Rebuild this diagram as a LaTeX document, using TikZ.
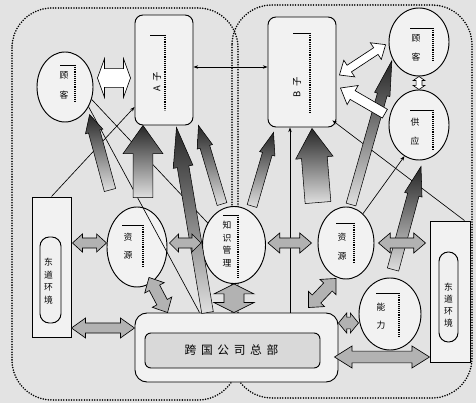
\documentclass[tikz,border=0pt]{standalone}
\usepackage{fontspec}
\newfontfamily\cjk{Noto Sans CJK SC}
\usetikzlibrary{calc,shapes.geometric,arrows.meta}

% fat single arrow: style, tail, tip, shaft half-width, head half-width, head length
\newcommand\myfat[6]{%
  \coordinate (faP) at #2; \coordinate (faQ) at #3;
  \coordinate (faB) at ($(faQ)!#6!(faP)$);
  \path[#1] ($(faP)!#4!90:(faQ)$) -- ($(faB)!#4!90:(faQ)$) -- ($(faB)!#5!90:(faQ)$) -- (faQ)
    -- ($(faB)!#5!-90:(faQ)$) -- ($(faB)!#4!-90:(faQ)$) -- ($(faP)!#4!-90:(faQ)$) -- cycle;}
% fat double arrow: style, end A, end C, shaft half-width, head half-width, head length
\newcommand\mydbl[6]{%
  \coordinate (daA) at #2; \coordinate (daC) at #3;
  \coordinate (daU) at ($(daA)!#6!(daC)$);
  \coordinate (daV) at ($(daC)!#6!(daA)$);
  \path[#1] (daA) -- ($(daU)!#5!90:(daC)$) -- ($(daU)!#4!90:(daC)$) -- ($(daV)!#4!-90:(daA)$)
    -- ($(daV)!#5!-90:(daA)$) -- (daC) -- ($(daV)!#5!90:(daA)$) -- ($(daV)!#4!90:(daA)$)
    -- ($(daU)!#4!-90:(daC)$) -- ($(daU)!#5!-90:(daC)$) -- cycle;}
% label bracket: node, x1, x2, ytop, ybottom
\newcommand\mybrk[5]{%
  \draw[line width=0.6pt] ([shift={(#2,#4)}]#1.center) -- ([shift={(#3,#4)}]#1.center);
  \draw[brk] ([shift={(#3,#4)}]#1.center) -- ([shift={(#3,#5)}]#1.center);}

\tikzset{
  region/.style={line width=1.5pt, dash pattern=on 0pt off 2.2pt, line cap=round, rounded corners=1.2cm},
  box/.style={draw, line width=0.8pt, fill=gray!10, rounded corners=0.24cm, inner sep=0pt},
  oval/.style={draw, ellipse, line width=0.8pt, fill=gray!10, inner sep=0pt},
  rectb/.style={draw, line width=0.8pt, fill=gray!10, inner sep=0pt},
  pill/.style={draw, line width=0.8pt, fill=gray!12, rounded corners=0.28cm, inner sep=0pt},
  brk/.style={line width=0.9pt, dash pattern=on 0.8pt off 0.8pt},
  txt/.style={font=\cjk\fontsize{7.5}{9}\selectfont, inner sep=0pt, align=center},
  thinl/.style={line width=0.55pt},
  grad/.style={draw=black, line width=0.45pt, top color=black!85, bottom color=gray!25},
  whitea/.style={draw=black, fill=white, line width=0.55pt},
  darka/.style={draw=black, fill=gray!60, line width=0.55pt},
  tip/.style={-{Stealth[length=4pt,width=3pt]}}
}

\begin{document}
\begin{tikzpicture}[x=0.03cm,y=-0.03cm]
\path[use as bounding box, fill=gray!22] (0,0) rectangle (476,403);

% regions
\draw[region] (12,8) rectangle (238,400);
\draw[region] (232,5) rectangle (472,398);

% nodes
\node[box, minimum width=1.74cm, minimum height=3.3cm] (nA) at (164,70) {};
\node[box, minimum width=2.04cm, minimum height=3.3cm] (nB) at (302,72) {};
\node[oval, minimum width=1.68cm, minimum height=2.1cm] (c1) at (65,87) {};
\node[oval, minimum width=1.8cm, minimum height=2.04cm] (r1) at (419,42) {};
\node[oval, minimum width=1.8cm, minimum height=2.1cm] (r2) at (419,125) {};
\node[oval, minimum width=1.8cm, minimum height=2.4cm] (c2) at (137,247) {};
\node[oval, minimum width=1.89cm, minimum height=2.31cm] (c3) at (234,245) {};
\node[oval, minimum width=1.68cm, minimum height=2.16cm] (c4) at (346,243) {};
\node[oval, minimum width=1.86cm, minimum height=2.16cm] (c5) at (390,314) {};
\node[rectb, minimum width=1.17cm, minimum height=4.2cm] (lr) at (51.5,267) {};
\node[pill, minimum width=0.63cm, minimum height=2.58cm] (lri) at (50.5,280) {};
\node[rectb, minimum width=1.2cm, minimum height=4.23cm] (rr) at (450,291.5) {};
\node[pill, minimum width=0.57cm, minimum height=2.7cm] (rri) at (448.5,297) {};
\node[box, rounded corners=0.36cm, minimum width=6.09cm, minimum height=2.07cm] (bb) at (236.5,347.5) {};
\node[box, fill=gray!30, rounded corners=0.18cm, minimum width=5.25cm, minimum height=1.05cm] (bbi) at (232.5,350.5) {};

% brackets
\mybrk{nA}{-14}{1}{-35}{40}
\mybrk{nB}{-9}{8}{-39}{40}
\mybrk{c1}{-5}{10}{-22}{15}
\mybrk{r1}{-9}{14}{-14}{18}
\mybrk{r2}{-9}{14}{-15}{25}
\mybrk{c2}{-15}{6}{-22}{21}
\mybrk{c3}{-11}{4}{-30}{32}
\mybrk{c4}{-10}{8}{-20}{20}
\mybrk{c5}{-14}{9}{-21}{23}

% texts
\node[txt, font=\cjk\fontsize{8}{9}\selectfont, rotate=90] (tA) at ([shift={(-7,12)}]nA.center) {A\hspace{4pt}子};
\node[txt, font=\cjk\fontsize{8}{9}\selectfont, rotate=90] (tB) at ([shift={(-5,15)}]nB.center) {B\hspace{4pt}子};
\node[txt] (tc1) at ([shift={(-1,-2)}]c1.center) {顾\\[8pt]客};
\node[txt] (tr1) at ([shift={(-3,6)}]r1.center) {顾\\[7pt]客};
\node[txt] (tr2) at ([shift={(-4,7)}]r2.center) {供\\[7pt]应};
\node[txt] (tc2) at ([shift={(-9,-1)}]c2.center) {资\\[6pt]源};
\node[txt, font=\cjk\fontsize{7.5}{10.8}\selectfont] (tc3) at ([shift={(-7,-1)}]c3.center) {知\\识\\管\\理};
\node[txt] (tc4) at ([shift={(-4,4)}]c4.center) {资\\[7pt]源};
\node[txt] (tc5) at ([shift={(-9,2)}]c5.center) {能\\[6pt]力};
\node[txt, font=\cjk\fontsize{7.5}{10.8}\selectfont] (tlr) at ([shift={(-2,1)}]lri.center) {东\\道\\环\\境};
\node[txt, font=\cjk\fontsize{7.5}{10.2}\selectfont] (trr) at ([shift={(0,8)}]rri.center) {东\\道\\环\\境};
\node[txt, font=\cjk\fontsize{10}{12}\selectfont] (tbb) at ([shift={(-1,0)}]bbi.center) {跨\hspace{4pt}国\hspace{4pt}公\hspace{4pt}司\hspace{4pt}总\hspace{4pt}部};

% thin connectors
\draw[thinl, {Stealth[length=4pt,width=3pt]}-{Stealth[length=4pt,width=3pt]}] ($(nA.east)+(0,-3)$) -- ($(nB.west)+(0,-5)$);
\draw[thinl, tip] ($(rr.north east)+(-6,0)$) -- ($(nB.south east)+(-4,-7)$);
\draw[thinl, tip] (lr.north) -- ($(nA.west)+(0,37)$);
\draw[thinl] (c1.-25) -- (c3.140);
\draw[thinl] (c1.-40) -- ($(bb.north west)+(65,0)$);
\coordinate (v1) at ($(nB.south)+(-12,0)$);
\draw[thinl, tip] (v1 |- bb.north) -- (v1);
\draw[thinl, tip] (c4.60) -- (r2.-115);

% gradient arrows
\coordinate (g1t) at (110,190);
\myfat{grad}{(g1t)}{($(c1.-50)+(4,3)$)}{5pt}{7.7pt}{15pt}
\myfat{grad}{($(c2.north)+(6,-9)$)}{($(nA.south)+(-21,0)$)}{8.5pt}{17pt}{24pt}
\myfat{grad}{($(bb.north west)+(73,0)$)}{($(nA.south east)+(-17,2)$)}{5pt}{8.5pt}{34pt}
\myfat{grad}{($(c3.north)+(-12,-2)$)}{($(nA.south east)+(5,0)$)}{4.3pt}{6.8pt}{19pt}
\myfat{grad}{($(c3.north)+(18,0)$)}{($(nB.south west)+(6,5)$)}{4.3pt}{6.8pt}{19pt}
\myfat{grad}{($(c4.north)+(-28,-4)$)}{($(nB.south)+(10,1)$)}{11pt}{16pt}{25pt}
\myfat{grad}{($(c4.north)+(5,-2)$)}{($(r1.210)+(0,3)$)}{4.3pt}{6.8pt}{30pt}
\myfat{grad}{($(c5.north)+(3,-8)$)}{($(r2.south)+(2,6)$)}{5pt}{7.7pt}{25pt}

% white arrows
\mydbl{whitea}{($(c1.east)+(4,-9)$)}{($(nA.west)+(-4,8)$)}{8pt}{16.5pt}{6pt}
\mydbl{whitea}{($(nB.east)+(3,3)$)}{($(r1.185)+(-3,0)$)}{3.4pt}{8.5pt}{10pt}
\myfat{whitea}{($(r2.170)+(-4,-6)$)}{($(nB.east)+(4,16)$)}{4.3pt}{9.4pt}{12pt}
\mydbl{whitea}{(r1.south)}{(r2.north)}{2.5pt}{5pt}{3.5pt}

% dark double arrows
\mydbl{darka}{($(lr.east)+(1,-24)$)}{($(c2.west)+(0,-4)$)}{4.3pt}{7.7pt}{8.5pt}
\mydbl{darka}{($(lr.east)+(0,61)$)}{($(bb.west)+(0,-19.5)$)}{4.3pt}{8.5pt}{12pt}
\mydbl{darka}{($(c2.south)+(12,-10)$)}{($(bb.north west)+(33,0)$)}{5pt}{9.4pt}{10pt}
\mydbl{darka}{($(c2.east)+(2,-4)$)}{($(c3.west)+(-1,-2)$)}{4.3pt}{7.7pt}{7.7pt}
\mydbl{darka}{(c3.south)}{(c3.south |- bb.north)}{8.5pt}{17pt}{8.5pt}
\mydbl{darka}{($(c3.east)+(2,-2)$)}{($(c4.west)+(-6,0)$)}{4.3pt}{8.5pt}{10pt}
\mydbl{darka}{($(c4.south)+(-10,-1)$)}{($(bb.north east)+(-30,-5)$)}{5pt}{9.4pt}{10pt}
\mydbl{darka}{($(c4.east)+(4,0)$)}{($(rr.west)+(-4,-48.5)$)}{4.3pt}{8.5pt}{10pt}
\mydbl{darka}{($(bb.east)+(0,-24.5)$)}{($(c5.west)+(0,9)$)}{5pt}{8.5pt}{7pt}
\mydbl{darka}{($(bb.east)+(-4,9.5)$)}{($(rr.west)+(0,65.5)$)}{5pt}{9.4pt}{15pt}
\end{tikzpicture}
\end{document}
